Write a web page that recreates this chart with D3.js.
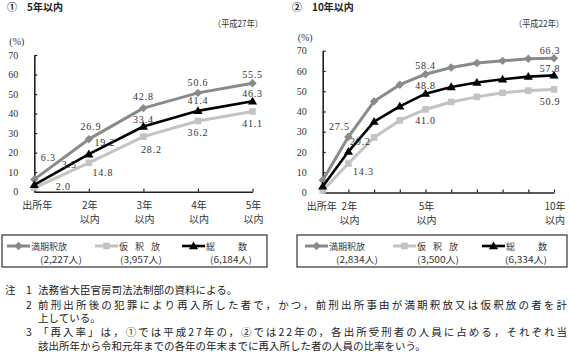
<!DOCTYPE html>
<html><head><meta charset="utf-8">
<script src="https://cdn.jsdelivr.net/npm/d3@7"></script>
<style>
html,body{margin:0;padding:0;background:#fff;}
svg{display:block;}
.jp{font-family:"Noto Sans CJK JP","Noto Sans",sans-serif;}
.num{font-family:"Liberation Serif","DejaVu Serif",serif;}
</style>
</head><body>
<svg id="chart" width="570" height="356"></svg>
<script>
// ---- data ----
const leftCategories = ["出所年","2年以内","3年以内","4年以内","5年以内"];
const leftManki = [6.3, 26.9, 42.8, 50.6, 55.5];
const leftKari  = [2.0, 14.8, 28.2, 36.2, 41.1];
const leftTotal = [3.5, 19.2, 33.4, 41.4, 46.3];

const rightCategories = ["出所年","2年以内","3年以内","4年以内","5年以内","6年以内","7年以内","8年以内","9年以内","10年以内"];
const rightManki = [6.0, 27.5, 45.0, 53.2, 58.4, 61.7, 63.9, 65.0, 66.0, 66.3];
const rightKari  = [1.0, 14.3, 27.2, 35.6, 41.0, 44.7, 47.2, 49.2, 50.3, 50.9];
const rightTotal = [3.0, 20.2, 35.0, 42.5, 48.8, 52.1, 54.3, 55.9, 57.2, 57.8];

const yTicks = [0, 10, 20, 30, 40, 50, 60, 70];
const seriesNames = ["満期釈放", "仮　釈　放", "総　　数"];
const leftCounts  = ["(2,227人)", "(3,957人)", "(6,184人)"];
const rightCounts = ["(2,834人)", "(3,500人)", "(6,334人)"];
const leftTitle = "①　5年以内", rightTitle = "②　10年以内";
const leftYear = "（平成27年）", rightYear = "（平成22年）";
const leftTickShown  = ["出所年","2年以内","3年以内","4年以内","5年以内"];
const rightTickShown = ["出所年","2年以内","5年以内","10年以内"];
const notes = [
  ["注", "1", "法務省大臣官房司法法制部の資料による。"],
  ["", "2", "前刑出所後の犯罪により再入所した者で，かつ，前刑出所事由が満期釈放又は仮釈放の者を計"],
  ["", "", "上している。"],
  ["", "3", "「再入率」は，①では平成27年の，②では22年の，各出所受刑者の人員に占める，それぞれ当"],
  ["", "", "該出所年から令和元年までの各年の年末までに再入所した者の人員の比率をいう。"]
];

// ---- styles ----
const colors = ["#8a8a8a", "#c3c3c3", "#000000"];
const widths = [3, 3, 2.6];
const markerPaths = [
  "M0,-4.2L4.2,0L0,4.2L-4.2,0Z",
  "M-3.3,-3.3H3.3V3.3H-3.3Z",
  "M0,-4.6L4.6,3.2L-4.6,3.2Z"
];

const svg = d3.select("#chart");

function panel(cfg) {
  const g = svg.append("g");
  const x = d3.scalePoint().domain(cfg.categories).range(cfg.xRange).padding(0);
  const y = d3.scaleLinear().domain([0, 70]).range(cfg.yRange);

  // title
  g.append("text").attr("class","jp").attr("x", cfg.titleX).attr("y", 11)
    .attr("font-size", 10).attr("font-weight", 700).attr("fill","#222").text(cfg.title);
  g.append("text").attr("class","jp").attr("x", cfg.yearX).attr("y", 27)
    .attr("text-anchor","end").attr("font-size", 9).attr("fill","#333")
    .attr("textLength", 50).attr("lengthAdjust","spacingAndGlyphs").text(cfg.year);
  g.append("text").attr("class","num").attr("x", cfg.xRange[0]-10).attr("y", y(70)-10)
    .attr("text-anchor","end").attr("font-size", 10).attr("fill","#333").text("(%)");

  // y axis
  const ya = g.append("g").attr("transform", `translate(${cfg.xRange[0]},0)`)
    .call(d3.axisLeft(y).tickValues(yTicks).tickSize(-3).tickPadding(16).tickSizeOuter(0));
  ya.select(".domain").attr("stroke","#222").attr("stroke-width",1.6);
  ya.selectAll(".tick line").attr("stroke","#222").attr("stroke-width",1.2);
  ya.selectAll("text").attr("class","num").attr("font-size",10).attr("fill","#333").attr("font-family","Liberation Serif, serif");

  // x axis
  const xa = g.append("g").attr("transform", `translate(0,${cfg.yRange[0]})`)
    .call(d3.axisBottom(x).tickSize(-3).tickSizeOuter(0).tickFormat(""));
  xa.select(".domain").attr("stroke","#222").attr("stroke-width",1.4);
  xa.selectAll(".tick line").attr("stroke","#222").attr("stroke-width",1.2);

  // x tick labels (two lines)
  cfg.tickShown.forEach(c => {
    const cx = x(c) + (c === "出所年" ? cfg.firstDx : 1);
    if (c === "出所年") {
      g.append("text").attr("class","jp").attr("x", cx).attr("y", cfg.yRange[0]+17)
        .attr("text-anchor","middle").attr("font-size",10).attr("fill","#333").text(c);
    } else {
      const top = c.replace("以内","");
      g.append("text").attr("class","jp").attr("x", cx).attr("y", cfg.yRange[0]+17)
        .attr("text-anchor","middle").attr("font-size",10).attr("fill","#333").text(top);
      g.append("text").attr("class","jp").attr("x", cx).attr("y", cfg.yRange[0]+31)
        .attr("text-anchor","middle").attr("font-size",10).attr("fill","#333").text("以内");
    }
  });

  // series: draw light, mid, then black
  const order = [1, 0, 2];
  const line = d3.line().x((d,i) => x(cfg.categories[i])).y(d => y(d));
  order.forEach(s => {
    const vals = cfg.series[s];
    g.append("path").datum(vals).attr("d", line).attr("fill","none")
      .attr("stroke", colors[s]).attr("stroke-width", widths[s]).attr("stroke-linejoin","round");
    g.selectAll(null).data(vals).enter().append("path")
      .attr("d", markerPaths[s]).attr("fill", colors[s])
      .attr("transform", (d,i) => `translate(${x(cfg.categories[i])},${y(d)})`);
  });

  // value labels
  order.forEach(s => {
    const vals = cfg.series[s];
    vals.forEach((v, i) => {
      const c = cfg.categories[i];
      const off = cfg.labelOffsets[s][c];
      if (!off) return;
      g.append("text").attr("class","num")
        .attr("x", x(c) + off[0]).attr("y", y(v) + off[1] + 3.5)
        .attr("text-anchor","middle").attr("font-size",10).attr("letter-spacing",0.8)
        .attr("fill","#333").text(d3.format(".1f")(v));
    });
  });

  // legend
  const lx = cfg.legendX, ly = 235, lw = cfg.legendW, lh = 32;
  g.append("rect").attr("x", lx).attr("y", ly).attr("width", lw).attr("height", lh)
    .attr("fill","none").attr("stroke","#333").attr("stroke-width",1.2);
  const itemX = cfg.legendItems;
  [0,1,2].forEach(s => {
    const ix = lx + itemX[s];
    g.append("line").attr("x1", ix).attr("x2", ix+23).attr("y1", ly+11).attr("y2", ly+11)
      .attr("stroke", colors[s]).attr("stroke-width", widths[s]);
    g.append("path").attr("d", markerPaths[s]).attr("fill", colors[s])
      .attr("transform", `translate(${ix+11.5},${ly+11})`);
    const t = g.append("text").attr("class","jp").attr("x", ix+24).attr("y", ly+14.5)
      .attr("font-size",9).attr("fill","#333").text(seriesNames[s]);
    if (s > 0) t.attr("textLength", 41).attr("lengthAdjust","spacing");
    g.append("text").attr("class","jp").attr("x", ix + cfg.countDx[s]).attr("y", ly+27.5)
      .attr("font-size",9).attr("fill","#333").attr("textLength", 42)
      .attr("lengthAdjust","spacingAndGlyphs").text(cfg.counts[s]);
  });
}

panel({
  categories: leftCategories,
  series: [leftManki, leftKari, leftTotal],
  xRange: [34.3, 252.5], yRange: [191.7, 55],
  title: leftTitle, titleX: 7, year: leftYear, yearX: 263,
  tickShown: leftTickShown, firstDx: 3,
  labelOffsets: [
    {"出所年":[14,-22], "2年以内":[2,-13], "3年以内":[0,-12], "4年以内":[0,-10], "5年以内":[0,-9]},
    {"出所年":[29,-1], "2年以内":[14,10], "3年以内":[8,13], "4年以内":[0,11], "5年以内":[0,12]},
    {"出所年":[35,-20], "2年以内":[16,-12], "3年以内":[0,-7], "4年以内":[0,-10], "5年以内":[0,-8]}
  ],
  legendX: 2, legendW: 265,
  legendItems: [5, 93, 180], countDx: [33, 25, 28],
  counts: leftCounts
});

panel({
  categories: rightCategories,
  series: [rightManki, rightKari, rightTotal],
  xRange: [322.7, 554], yRange: [192.5, 50.7],
  title: rightTitle, titleX: 292, year: rightYear, yearX: 564,
  tickShown: rightTickShown, firstDx: -1,
  labelOffsets: [
    {"2年以内":[-9,-10], "5年以内":[0,-9], "10年以内":[-4,-8]},
    {"2年以内":[15,8], "5年以内":[0,11], "10年以内":[-4,12]},
    {"2年以内":[12,-10], "5年以内":[0,-8], "10年以内":[-4,-7]}
  ],
  legendX: 297, legendW: 270,
  legendItems: [8, 96, 185], countDx: [31, 24, 23],
  counts: rightCounts
});

// notes
const noteY = [294, 308.5, 322, 336, 350];
notes.forEach((n, i) => {
  if (n[0]) svg.append("text").attr("class","jp").attr("x", 5).attr("y", noteY[i])
    .attr("font-size", 10.5).attr("fill","#222").text(n[0]);
  if (n[1]) svg.append("text").attr("class","jp").attr("x", 29).attr("y", noteY[i])
    .attr("text-anchor","middle").attr("font-size", 10.5).attr("fill","#222").text(n[1]);
  const t = svg.append("text").attr("class","jp").attr("x", 38).attr("y", noteY[i])
    .attr("font-size", 10.5).attr("fill","#222").text(n[2]);
  if (i === 1 || i === 3) t.attr("textLength", 529).attr("lengthAdjust","spacing");
});
</script>
</body></html>
